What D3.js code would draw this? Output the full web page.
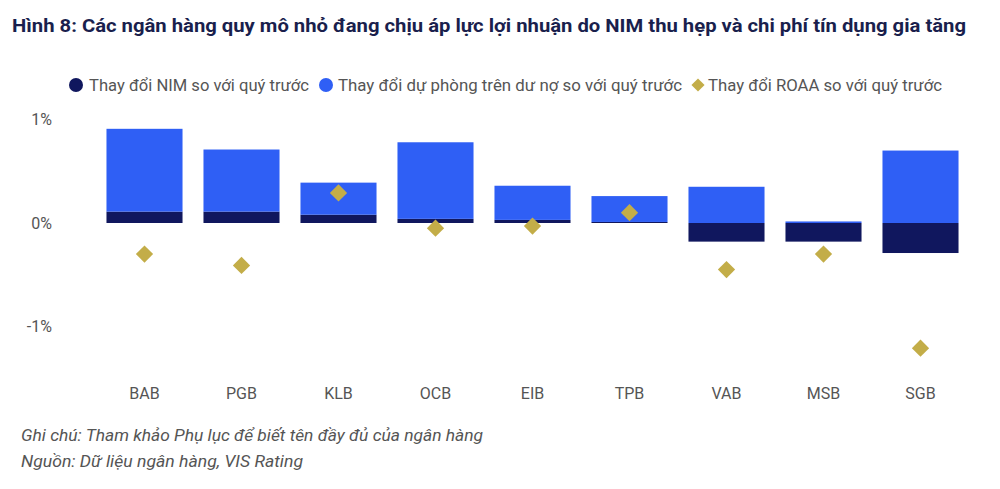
<!DOCTYPE html>
<html><head><meta charset="utf-8">
<script src="https://cdn.jsdelivr.net/npm/d3@7"></script>
<style>body{margin:0;background:#fff}svg{display:block}</style>
</head><body>
<script>
const categories = ["BAB","PGB","KLB","OCB","EIB","TPB","VAB","MSB","SGB"];
const nimChange = [0.11,0.11,0.08,0.04,0.03,0.01,-0.18,-0.18,-0.29];
const provisionChange = [0.80,0.60,0.31,0.74,0.33,0.25,0.35,0.015,0.70];
const roaaChange = [-0.30,-0.41,0.29,-0.05,-0.03,0.10,-0.45,-0.30,-1.21];
const yTicks = [-0.01,0,0.01];
const yTickLabels = ["-1%","0%","1%"];
const seriesNames = ["Thay đổi NIM so với quý trước","Thay đổi dự phòng trên dư nợ so với quý trước","Thay đổi ROAA so với quý trước"];

const W=1000,H=489;
const C={nim:"#10175e",prov:"#2f5ff5",roaa:"#c3ad48",text:"#555"};
const svg=d3.select("body").append("svg").attr("width",W).attr("height",H);
const font="Roboto, 'Liberation Sans', sans-serif";

svg.append("text").attr("x",12).attr("y",32).attr("fill","#1a1f4d")
  .attr("font-family",font).attr("font-weight","bold")
  .attr("font-size",18).attr("textLength",954).attr("lengthAdjust","spacingAndGlyphs")
  .text("Hình 8: Các ngân hàng quy mô nhỏ đang chịu áp lực lợi nhuận do NIM thu hẹp và chi phí tín dụng gia tăng");

const x=d3.scaleBand().domain(categories).range([96,969]).paddingInner(0.216).paddingOuter(0.108);
const y=d3.scaleLinear().domain([-0.01,0.01]).range([326.5,119.5]);

// y axis
const yAxis=d3.axisLeft(y).tickValues(yTicks).tickSize(0).tickPadding(0).tickFormat((d,i)=>yTickLabels[i]);
const ga=svg.append("g").attr("transform","translate(52,0)").call(yAxis);
ga.select(".domain").remove();
ga.selectAll("text").attr("font-family",font).attr("font-size",16).attr("fill",C.text);

// x labels
const gx=svg.append("g").attr("transform","translate(0,388)").call(d3.axisBottom(x).tickSize(0).tickPadding(0));
gx.select(".domain").remove();
gx.selectAll("text").attr("font-family",font).attr("font-size",16).attr("fill",C.text);

const data=categories.map((c,i)=>({c,nim:nimChange[i]/100,prov:provisionChange[i]/100,roaa:roaaChange[i]/100}));

// NIM bars
svg.append("g").selectAll("rect").data(data).join("rect")
  .attr("x",d=>x(d.c)).attr("width",x.bandwidth())
  .attr("y",d=>y(Math.max(0,d.nim))).attr("height",d=>Math.abs(y(d.nim)-y(0)))
  .attr("fill",C.nim);
// Provision bars stacked on positive NIM
svg.append("g").selectAll("rect").data(data).join("rect")
  .attr("x",d=>x(d.c)).attr("width",x.bandwidth())
  .attr("y",d=>{const b=Math.max(0,d.nim);return y(b+d.prov);})
  .attr("height",d=>{const b=Math.max(0,d.nim);return y(b)-y(b+d.prov);})
  .attr("fill",C.prov);

// ROAA diamonds
const sym=d3.symbol().type(d3.symbolDiamond2).size(190);
svg.append("g").selectAll("path").data(data).join("path")
  .attr("transform",d=>`translate(${x(d.c)+x.bandwidth()/2},${y(d.roaa)})`)
  .attr("d",sym).attr("fill",C.roaa);

// legend
const lg=svg.append("g").attr("font-family",font).attr("font-size",16.5).attr("fill",C.text);
const ly=85;
lg.append("circle").attr("cx",76).attr("cy",ly).attr("r",7).attr("fill",C.nim);
lg.append("text").attr("x",89).attr("y",ly).attr("dy","0.35em").attr("textLength",220).attr("lengthAdjust","spacingAndGlyphs").text(seriesNames[0]);
lg.append("circle").attr("cx",326).attr("cy",ly).attr("r",7).attr("fill",C.prov);
lg.append("text").attr("x",338).attr("y",ly).attr("dy","0.35em").attr("textLength",344).attr("lengthAdjust","spacingAndGlyphs").text(seriesNames[1]);
lg.append("path").attr("transform",`translate(698,${ly})`).attr("d",d3.symbol().type(d3.symbolDiamond2).size(110)).attr("fill",C.roaa);
lg.append("text").attr("x",708).attr("y",ly).attr("dy","0.35em").attr("textLength",234).attr("lengthAdjust","spacingAndGlyphs").text(seriesNames[2]);

// notes
const nt=svg.append("g").attr("font-family",font).attr("font-size",16.5).attr("font-style","italic").attr("fill",C.text);
nt.append("text").attr("x",21).attr("y",441).attr("textLength",462).attr("lengthAdjust","spacingAndGlyphs").text("Ghi chú: Tham khảo Phụ lục để biết tên đầy đủ của ngân hàng");
nt.append("text").attr("x",21).attr("y",467).attr("textLength",282).attr("lengthAdjust","spacingAndGlyphs").text("Nguồn: Dữ liệu ngân hàng, VIS Rating");
</script>
</body></html>
